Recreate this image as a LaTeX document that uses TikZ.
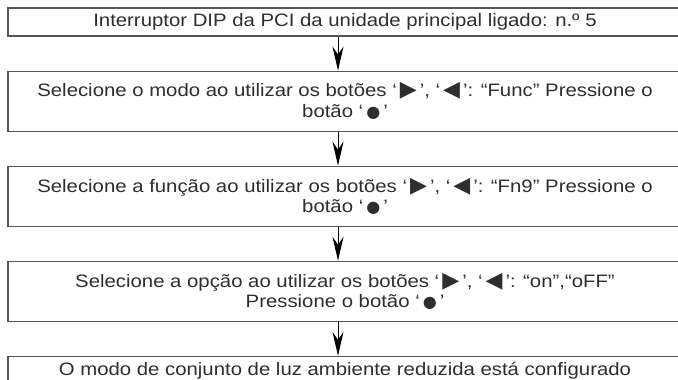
\documentclass[tikz,border=0pt]{standalone}
\usepackage{fontspec}
\setmainfont[FakeStretch=1.13]{Liberation Sans}
\newfontfamily\symfont{DejaVu Sans}
\usetikzlibrary{positioning,arrows.meta}
\definecolor{ink}{HTML}{2E2E2E}
\definecolor{frame}{HTML}{555555}
\newcommand{\btnR}{\,{\symfont\fontsize{22}{22}\selectfont ▶}\,}
\newcommand{\btnL}{\,{\symfont\fontsize{22}{22}\selectfont ◀}\,}
\newcommand{\btnOk}{\,{\symfont\fontsize{16}{16}\selectfont ●}\,}
\tikzset{
  stepbox/.style={draw=frame, line width=1.1pt, minimum width=674pt, align=center, text=ink,
    font=\fontsize{18}{20.5}\selectfont, inner sep=3pt},
  flow/.style={-{Stealth[length=24pt, width=11pt, inset=8pt]}, draw=black, line width=1pt},
}
\begin{document}
\begin{tikzpicture}[node distance=34pt]
    \useasboundingbox (0,0) rectangle (678pt,-380pt);
    \node[stepbox, minimum height=28pt] (dip) at (345pt,-22pt) {Interruptor DIP da PCI da unidade principal ligado: n.º 5};
    \node[stepbox, minimum height=60pt, below=of dip] (modo) {Selecione o modo ao utilizar os botões ‘\btnR’, ‘\btnL’: “Func” Pressione o\\botão ‘\btnOk’};
    \node[stepbox, minimum height=60pt, below=of modo] (func) {Selecione a função ao utilizar os botões ‘\btnR’, ‘\btnL’: “Fn9” Pressione o\\botão ‘\btnOk’};
    \node[stepbox, minimum height=60pt, below=of func] (opcao) {Selecione a opção ao utilizar os botões ‘\btnR’, ‘\btnL’: “on”,“oFF”\\Pressione o botão ‘\btnOk’};
    \node[stepbox, minimum height=29pt, below=of opcao] (fim) {O modo de conjunto de luz ambiente reduzida está configurado};
    \draw[flow] ([xshift=-7pt]dip.south) -- ([xshift=-7pt]modo.north);
    \draw[flow] ([xshift=-7pt]modo.south) -- ([xshift=-7pt]func.north);
    \draw[flow] ([xshift=-7pt]func.south) -- ([xshift=-7pt]opcao.north);
    \draw[flow] ([xshift=-7pt]opcao.south) -- ([xshift=-7pt]fim.north);
\end{tikzpicture}
\end{document}
